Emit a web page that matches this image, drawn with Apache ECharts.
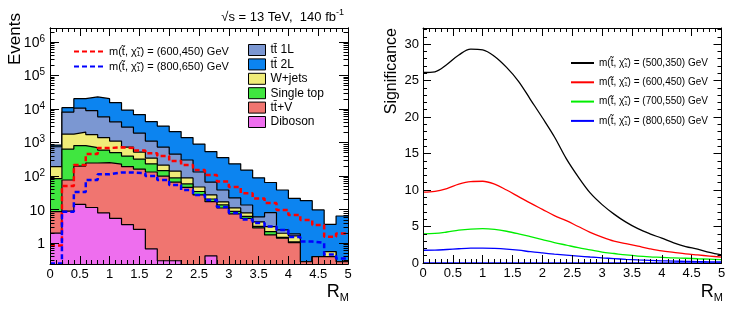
<!DOCTYPE html>
<html><head><meta charset="utf-8">
<script src="https://cdn.jsdelivr.net/npm/echarts@6/dist/echarts.min.js"></script>
<style>html,body{margin:0;padding:0;background:#fff}#c{width:747px;height:310px}</style>
</head><body><div id="c"></div>
<script>
// ---------------- data: left panel (stacked R_M histogram, log scale) ----------------
const binLow = [0, 0.2, 0.4, 0.6, 0.8, 1.0, 1.2, 1.4, 1.6, 1.8, 2.0, 2.2, 2.4, 2.6, 2.8, 3.0, 3.2, 3.4, 3.6, 3.8, 4.0, 4.2, 4.4, 4.6, 4.8];
const binHighLast = 5;
const diboson   = [2.0, 9.0, 14.3, 11.6, 8.0, 5.5, 3.6, 2.6, 0.68, 0.3, 0.3, 0, 0, 0.42, 0, 0, 0, 0, 0, 0, 0, 0, 0, 0, 0];
const ttV       = [6.7, 67.6, 185, 234, 246, 223, 189, 160, 132, 100, 66, 46, 27.4, 16.9, 11.2, 7.45, 5.47, 2.85, 1.77, 1.41, 1.04, 0.28, 0.40, 0.40, 0.28];
const singleTop = [75, 564, 614, 465, 344, 275, 204, 160, 100, 45, 22, 12.4, 7.4, 3.5, 2.6, 1.4, 0.8, 0.31, 0.44, 0.08, 0.05, 0, 0, 0, 0];
const wjets     = [107, 1150, 1239, 1020, 811, 604, 338, 199, 113, 68, 53, 29.6, 12.6, 6.6, 3.15, 2.4, 1.7, 1.14, 0.91, 0.49, 0.56, 0, 0, 0.16, 0];
const tt1L      = [560, 6290, 8580, 7235, 4450, 3050, 2160, 1395, 762, 520, 313, 214, 85, 39, 21.6, 11.1, 5.8, 1.76, 5.0, 0.5, 0.24, 0, 0, 0, 0];
const tt2L      = [92, 2920, 9760, 13950, 14530, 11340, 6380, 4900, 3110, 2360, 1670, 1107, 770, 473, 319, 210, 138, 83, 56.4, 36.1, 19.9, 18.2, 9.4, 3.1, 6.2];
const sig600_450 = [0.86, 50.7, 214, 455, 686, 720, 686, 578, 477, 396, 281, 214, 152, 108, 69, 47.4, 30.8, 21.5, 15.8, 9.8, 6.95, 4.9, 3.5, 1.57, 1.96];
const sig800_650 = [0.25, 8.7, 33.6, 76.6, 113, 128, 128, 121, 100.7, 76.6, 54.3, 38.6, 27.4, 19.4, 12.0, 7.97, 5.11, 4.02, 3.16, 2.49, 1.54, 1.12, 1.02, 0.46, 0.35];
const logMajorTicks = [1, 10, 100, 1000, 10000, 100000, 1000000];
const xTickLabels = [0, 0.5, 1, 1.5, 2, 2.5, 3, 3.5, 4, 4.5, 5];

// ---------------- data: right panel (significance vs R_M cut) ----------------
const rmCut = [0, 0.2, 0.4, 0.6, 0.8, 1.0, 1.2, 1.4, 1.6, 1.8, 2.0, 2.2, 2.4, 2.6, 2.8, 3.0, 3.2, 3.4, 3.6, 3.8, 4.0, 4.2, 4.4, 4.6, 4.8, 5.0];
const signif500_350 = [26.1, 26.2, 27.2, 28.5, 29.3, 29.2, 28.3, 26.8, 24.9, 22.4, 19.9, 17.3, 14.3, 11.8, 9.6, 8.0, 6.7, 5.6, 4.7, 4.0, 3.4, 2.75, 2.25, 1.9, 1.45, 1.1];
const signif600_450 = [9.7, 9.8, 10.2, 10.8, 11.15, 11.2, 10.8, 10.0, 9.1, 8.2, 7.35, 6.5, 5.8, 5.0, 4.2, 3.55, 3.0, 2.65, 2.3, 1.95, 1.65, 1.45, 1.25, 1.1, 0.95, 0.8];
const signif700_550 = [4.0, 4.05, 4.25, 4.5, 4.65, 4.7, 4.6, 4.35, 4.0, 3.6, 3.2, 2.8, 2.45, 2.1, 1.8, 1.5, 1.3, 1.1, 0.95, 0.85, 0.78, 0.7, 0.65, 0.58, 0.52, 0.45];
const signif800_650 = [1.75, 1.76, 1.85, 1.95, 2.03, 2.05, 2.0, 1.9, 1.75, 1.55, 1.38, 1.22, 1.08, 0.95, 0.82, 0.7, 0.6, 0.5, 0.42, 0.36, 0.3, 0.26, 0.22, 0.19, 0.16, 0.14];
const rightYTicks = [0, 5, 10, 15, 20, 25, 30];

// ---------------- chart ----------------
const FONT = '"Liberation Sans", Arial, Helvetica, sans-serif';
const Y_MIN = 0.24, Y_MAX = 2.6e6;
const LOG_FLOOR = 1e-4; // an empty bin sits below the log axis range

const minorLogTicks = [];
for (let e = -1; e <= 6; e++) for (let k = 2; k <= 9; k++) {
  const v = k * Math.pow(10, e);
  if (v > Y_MIN && v < Y_MAX) minorLogTicks.push(v);
}
function stepData(vals) {
  const pts = binLow.map((x, i) => [x, vals[i] > 0 ? vals[i] : LOG_FLOOR]);
  pts.push([binHighLast, pts[pts.length - 1][1]]);
  return pts;
}
const mChi = (m) => 'm(t\u0303, \u03C7\u0303\u2081) = (' + m + ') GeV';
const ZW = '\u200B';

const bkg = [
  { name: 'Diboson',       data: diboson,   color: '#ee6eee' },
  { name: 'tt\u0304+V',    data: ttV,       color: '#f07570' },
  { name: 'Single top',    data: singleTop, color: '#40e640' },
  { name: 'W+jets',        data: wjets,     color: '#f0ec78' },
  { name: 'tt\u0304 1L',   data: tt1L,      color: '#7b97d2' },
  { name: 'tt\u0304 2L',   data: tt2L,      color: '#0c84f0' }
];
// cumulative stack (bottom -> top), drawn top layer first so lower layers paint over it
const cumulative = [];
bkg.forEach((b, k) => {
  cumulative.push(b.data.map((v, i) => v + (k > 0 ? cumulative[k - 1][i] : 0)));
});

const series = [];
for (let k = bkg.length - 1; k >= 0; k--) {
  const b = bkg[k];
  series.push({
    type: 'line', name: b.name, xAxisIndex: 0, yAxisIndex: 0, step: 'end',
    data: stepData(cumulative[k]), symbol: 'none', color: b.color,
    itemStyle: { color: b.color },
    lineStyle: { color: '#000', width: 1.2 },
    areaStyle: { color: b.color, opacity: 1, origin: 'start' },
    z: 2 + k * 0.1 + (bkg.length - k), animation: false, silent: true
  });
}
series.push({
  type: 'line', name: mChi('600,450'), xAxisIndex: 0, yAxisIndex: 0, step: 'end',
  data: stepData(sig600_450), symbol: 'none', color: '#ff0000',
  lineStyle: { color: '#ff0000', width: 2.5, type: [5, 3] }, z: 9, animation: false
});
series.push({
  type: 'line', name: mChi('800,650'), xAxisIndex: 0, yAxisIndex: 0, step: 'end',
  data: stepData(sig800_650), symbol: 'none', color: '#0000ff',
  lineStyle: { color: '#0000ff', width: 2.5, type: [5, 3] }, z: 9, animation: false
});
const rightLines = [
  { name: mChi('500,350') + ZW, data: signif500_350, color: '#000000' },
  { name: mChi('600,450') + ZW, data: signif600_450, color: '#ff0000' },
  { name: mChi('700,550') + ZW, data: signif700_550, color: '#00ee00' },
  { name: mChi('800,650') + ZW, data: signif800_650, color: '#0000ff' }
];
rightLines.forEach((r, i) => {
  const s = {
    type: 'line', name: r.name, xAxisIndex: 2, yAxisIndex: 4,
    data: rmCut.map((x, j) => [x, r.data[j]]), smooth: 0.35, symbol: 'none', color: r.color,
    lineStyle: { color: r.color, width: 1.3 }, animation: false, z: 3
  };
  if (i === 3) s.markLine = { silent: true, symbol: 'none', label: { show: false },
    lineStyle: { color: '#0000ff', width: 1.5, type: 'solid' }, data: [{ yAxis: 0 }] };
  series.push(s);
});

function xAxisCfg(grid, pos, labels) {
  return {
    type: 'value', gridIndex: grid, position: pos, min: 0, max: 5, interval: 0.5, z: 10,
    axisLine: { show: true, onZero: false, lineStyle: { color: '#000', width: 1 } },
    axisTick: { show: true, inside: true, length: 8, lineStyle: { color: '#000' } },
    minorTick: { show: true, splitNumber: 5, length: 4, lineStyle: { color: '#000' } },
    splitLine: { show: false },
    axisLabel: labels ? { show: true, color: '#000', fontSize: 13, fontFamily: FONT, margin: 4,
      customValues: xTickLabels } : { show: false }
  };
}
function logAxisCfg(pos, ticks, len, labels) {
  return {
    type: 'log', logBase: 10, gridIndex: 0, position: pos, min: Y_MIN, max: Y_MAX, z: 10,
    axisLine: { show: true, onZero: false, lineStyle: { color: '#000', width: 1 } },
    axisTick: { show: true, inside: true, length: len, customValues: ticks, lineStyle: { color: '#000' } },
    splitLine: { show: false }, minorTick: { show: false },
    axisLabel: labels ? {
      show: true, margin: 5, customValues: logMajorTicks, color: '#000', fontFamily: FONT,
      formatter: (v) => {
        const e = Math.round(Math.log10(v));
        if (e === 0) return '{b|1}';
        if (e === 1) return '{b|10}';
        return '{b|10}{s|' + e + '}';
      },
      rich: {
        b: { fontSize: 14, lineHeight: 16, fontFamily: FONT, color: '#000', verticalAlign: 'bottom' },
        s: { fontSize: 10, lineHeight: 10, fontFamily: FONT, color: '#000', verticalAlign: 'top' }
      }
    } : { show: false }
  };
}
function linAxisCfg(pos, labels) {
  return {
    type: 'value', gridIndex: 1, position: pos, min: 0, max: 32.2, interval: 5, z: 10,
    axisLine: { show: true, onZero: false, lineStyle: { color: '#000', width: 1 } },
    axisTick: { show: true, inside: true, length: 8, lineStyle: { color: '#000' } },
    minorTick: { show: true, splitNumber: 5, length: 4, lineStyle: { color: '#000' } },
    splitLine: { show: false },
    axisLabel: labels ? { show: true, color: '#000', fontSize: 13, fontFamily: FONT, margin: 4,
      customValues: rightYTicks } : { show: false }
  };
}

const hideSym = { opacity: 0 };
const option = {
  backgroundColor: '#fff',
  animation: false,
  grid: [
    { left: 50, top: 28, width: 298, height: 236, show: false },
    { left: 423, top: 28, width: 298.5, height: 235, show: false }
  ],
  xAxis: [ xAxisCfg(0, 'bottom', true), xAxisCfg(0, 'top', false), xAxisCfg(1, 'bottom', true), xAxisCfg(1, 'top', false) ],
  yAxis: [
    logAxisCfg('left', logMajorTicks, 9, true),
    logAxisCfg('left', minorLogTicks, 4.5, false),
    logAxisCfg('right', logMajorTicks, 9, false),
    logAxisCfg('right', minorLogTicks, 4.5, false),
    linAxisCfg('left', true),
    linAxisCfg('right', false)
  ],
  legend: [
    {
      orient: 'vertical', left: 68, top: 40, itemWidth: 30, itemHeight: 10, itemGap: 2,
      data: [mChi('600,450'), mChi('800,650')].map(n => ({ name: n, itemStyle: hideSym })),
      textStyle: { color: '#000', fontSize: 11, fontFamily: FONT, lineHeight: 13 }, selectedMode: false
    },
    {
      orient: 'vertical', left: 243, top: 38.5, itemWidth: 17, itemHeight: 11, itemGap: 1.4,
      data: [4, 5, 3, 2, 1, 0].map(i => ({ name: bkg[i].name, icon: 'rect',
        itemStyle: { color: bkg[i].color, borderColor: '#000', borderWidth: 1 } })),
      textStyle: { color: '#000', fontSize: 12, fontFamily: FONT, lineHeight: 13 }, selectedMode: false
    },
    {
      orient: 'vertical', left: 565, top: 52, itemWidth: 23, itemHeight: 8, itemGap: 7.3,
      data: rightLines.map(r => ({ name: r.name, itemStyle: hideSym })),
      textStyle: { color: '#000', fontSize: 10, fontFamily: FONT, lineHeight: 12 }, selectedMode: false
    }
  ],
  graphic: [
    { type: 'text', x: 344, y: 16, silent: true, style: {
      text: '{a|\u221As = 13 TeV,  140 fb}{s|-1}', align: 'right', verticalAlign: 'middle',
      rich: { a: { fontSize: 13, fontFamily: FONT, fill: '#000', lineHeight: 16, verticalAlign: 'bottom' },
              s: { fontSize: 9, fontFamily: FONT, fill: '#000', lineHeight: 9, verticalAlign: 'top' } } } },
    { type: 'text', x: 15, y: 13, rotation: Math.PI / 2, silent: true, style: {
      text: 'Events', fontSize: 17, fontFamily: FONT, fill: '#000', align: 'right', verticalAlign: 'middle' } },
    { type: 'text', x: 392, y: 28, rotation: Math.PI / 2, silent: true, style: {
      text: 'Significance', fontSize: 16, fontFamily: FONT, fill: '#000', align: 'right', verticalAlign: 'middle' } },
    { type: 'text', x: 349, y: 293, silent: true, style: {
      text: '{r|R}{m|M}', align: 'right', verticalAlign: 'middle',
      rich: { r: { fontSize: 18, fontFamily: FONT, fill: '#000', lineHeight: 20, verticalAlign: 'top' },
              m: { fontSize: 11, fontFamily: FONT, fill: '#000', lineHeight: 11, verticalAlign: 'bottom' } } } },
    { type: 'text', x: 723, y: 293, silent: true, style: {
      text: '{r|R}{m|M}', align: 'right', verticalAlign: 'middle',
      rich: { r: { fontSize: 18, fontFamily: FONT, fill: '#000', lineHeight: 20, verticalAlign: 'top' },
              m: { fontSize: 11, fontFamily: FONT, fill: '#000', lineHeight: 11, verticalAlign: 'bottom' } } } }
  ],
  series: series
};
const chart = echarts.init(document.getElementById('c'), null, { renderer: 'canvas' });
chart.setOption(option);
</script>
</body></html>
